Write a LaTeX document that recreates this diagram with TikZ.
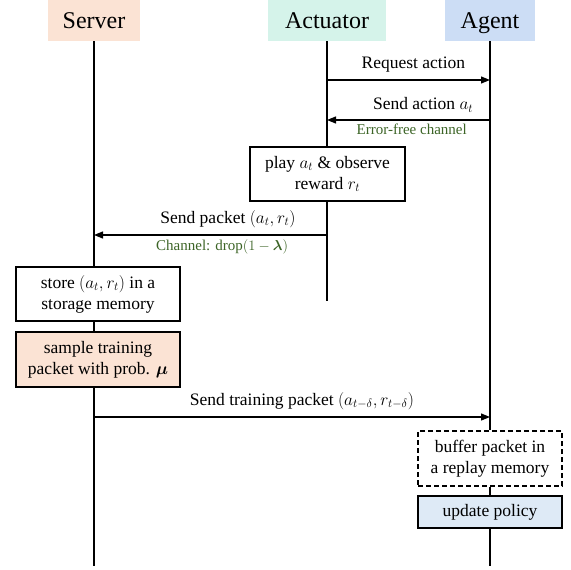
\documentclass[tikz,border=0pt]{standalone}
\usepackage{amsmath,bm}
\usepackage{fontspec}
\setmainfont{Liberation Serif}
\usetikzlibrary{arrows.meta}
\definecolor{srvfill}{RGB}{251,227,212}
\definecolor{actfill}{RGB}{213,243,234}
\definecolor{agtfill}{RGB}{204,221,245}
\definecolor{updfill}{RGB}{222,234,246}
\definecolor{chgreen}{RGB}{60,100,38}
\tikzset{
  hdr/.style={inner sep=0pt, minimum height=41pt, text height=18pt, text depth=3pt, font=\fontsize{24}{28}\selectfont},
  procbox/.style={draw=black, line width=1.3pt, fill=white, align=center, inner sep=0pt,
    font=\fontsize{17.5}{21}\selectfont},
  life/.style={line width=1.2pt},
  msg/.style={line width=1.2pt, -{Triangle[length=9pt,width=7pt]}},
  lbl/.style={font=\fontsize{17.5}{21}\selectfont, inner sep=0pt},
  chan/.style={font=\fontsize{15}{18}\selectfont, text=chgreen, inner sep=0pt}
}
\begin{document}
\begin{tikzpicture}[x=1pt,y=-1pt]
\useasboundingbox (0,0) rectangle (571,570);
% headers
\node[hdr, fill=srvfill, minimum width=92pt] (server) at (94,20.5) {Server};
\node[hdr, fill=actfill, minimum width=118pt] (actuator) at (327,20.5) {Actuator};
\node[hdr, fill=agtfill, minimum width=90pt] (agent) at (490,20.5) {Agent};
% boxes
\node[procbox, minimum width=155pt, minimum height=54pt] (play) at (327.5,174) {play $a_t$ \& observe\\reward $r_t$};
\node[procbox, minimum width=164pt, minimum height=54pt] (store) at (98,294) {store $(a_t, r_t)$ in a\\storage memory};
\node[procbox, fill=srvfill, minimum width=164pt, minimum height=55pt] (sample) at (98,359.5) {sample training\\packet with prob. $\bm{\mu}$};
\node[procbox, dash pattern=on 5pt off 3pt, minimum width=144pt, minimum height=55pt] (buffer) at (490,458.5) {buffer packet in\\a replay memory};
\node[procbox, fill=updfill, minimum width=144pt, minimum height=32pt] (update) at (490,512) {update policy};
% lifeline ends
\coordinate (srvend) at (94,566);
\coordinate (actend) at (327,301);
\coordinate (agtend) at (490,566);
% lifelines
\draw[life] (server.south) -- (server.south |- store.north);
\draw[life] (server.south |- store.south) -- (server.south |- sample.north);
\draw[life] (server.south |- sample.south) -- (srvend);
\draw[life] (actuator.south) -- (actuator.south |- play.north);
\draw[life] (actuator.south |- play.south) -- (actend);
\draw[life] (agent.south) -- (buffer.north);
\draw[life] (buffer.south) -- (update.north);
\draw[life] (update.south) -- (agtend);
% message rows
\coordinate (y1) at (0,80);
\coordinate (y2) at (0,120);
\coordinate (y3) at (0,235);
\coordinate (y4) at (0,417);
\draw[msg] (actuator.south |- y1) -- node[lbl, pos=0.53, above=7pt] {Request action} (agent.south |- y1);
\draw[msg] (agent.south |- y2) -- node[lbl, pos=0.41, above=7pt] {Send action $a_t$}
  node[chan, pos=0.48, below=3pt] {Error-free channel} (actuator.south |- y2);
\draw[msg] (actuator.south |- y3) -- node[lbl, pos=0.425, above=7pt] {Send packet $(a_t, r_t)$}
  node[chan, pos=0.45, below=4pt] {Channel: drop$(1-\bm{\lambda})$} (server.south |- y3);
\draw[msg] (server.south |- y4) -- node[lbl, pos=0.525, above=7pt] {Send training packet $(a_{t-\delta}, r_{t-\delta})$} (agent.south |- y4);
\end{tikzpicture}
\end{document}
